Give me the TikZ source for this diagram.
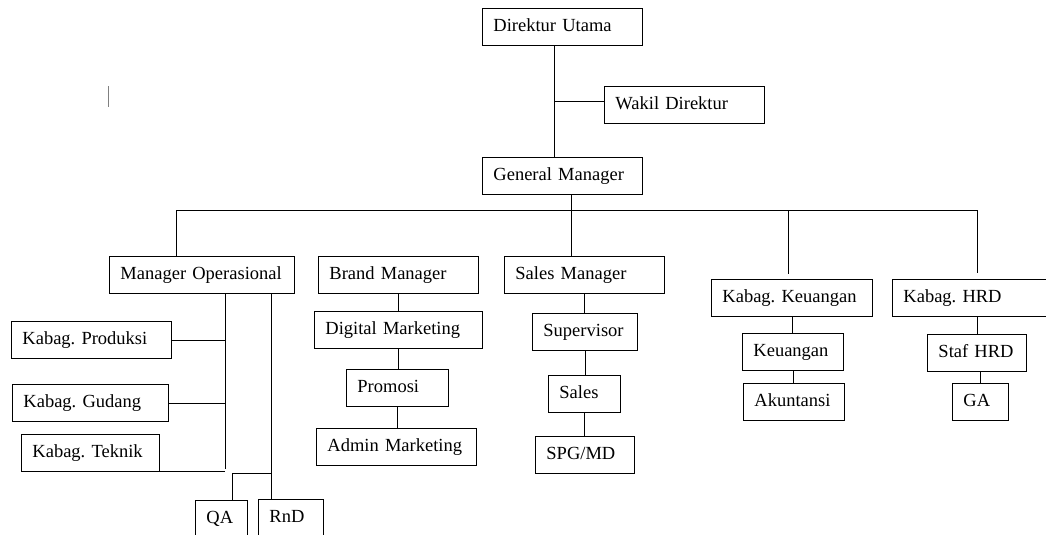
\documentclass[tikz,border=0pt]{standalone}
\usepackage{fontspec}
\setmainfont{Liberation Serif}
\frenchspacing
\begin{document}
\begin{tikzpicture}[x=1pt,y=-1pt,line width=0.9pt,
  box/.style={draw,anchor=north west,minimum height=37pt,inner xsep=11pt,inner ysep=0pt,
    text height=13pt,text depth=4pt,align=left,font=\fontsize{18.5}{22}\selectfont}]
\useasboundingbox (0,0) rectangle (1046,535);
\clip (0,0) rectangle (1046,535);
\node[box,text width=138pt] (du) at (482,8) {Direktur Utama};
\node[box,text width=138pt] (wd) at (604,86) {Wakil Direktur};
\node[box,text width=138pt] (gm) at (482,157) {General Manager};
\node[box,text width=163pt] (mo) at (109,256) {Manager Operasional};
\node[box,text width=138pt] (bm) at (318,256) {Brand Manager};
\node[box,text width=138pt] (sm) at (504,256) {Sales Manager};
\node[box,text width=139pt] (kk) at (711,279) {Kabag. Keuangan};
\node[box,text width=150pt] (hrd) at (892,279) {Kabag. HRD};
\node[box,text width=138pt] (kp) at (11,321) {Kabag. Produksi};
\node[box,text width=134pt] (kg) at (12,384) {Kabag. Gudang};
\node[box,text width=116pt] (kt) at (21,434) {Kabag. Teknik};
\node[box,text width=30pt] (qa) at (195,500) {QA};
\node[box,text width=43pt] (rnd) at (258,499) {RnD};
\node[box,text width=146pt] (dm) at (314,311) {Digital Marketing};
\node[box,text width=80pt] (pr) at (346,369) {Promosi};
\node[box,text width=138pt] (am) at (316,428) {Admin Marketing};
\node[box,text width=83pt] (sup) at (532,313) {Supervisor};
\node[box,text width=50pt] (sal) at (548,375) {Sales};
\node[box,text width=77pt] (spg) at (535,436) {SPG/MD};
\node[box,text width=79pt] (keu) at (742,333) {Keuangan};
\node[box,text width=79pt] (ak) at (743,383) {Akuntansi};
\node[box,text width=77pt] (staf) at (927,334) {Staf HRD};
\node[box,text width=34pt] (ga) at (952,383) {GA};
\coordinate (wj) at (554,101);
\coordinate (busL) at (176,210);
\coordinate (busR) at (977,210);
\coordinate (gmx) at (571,210);
\coordinate (kkx) at (788,210);
\coordinate (moa) at (225,469);
\coordinate (mob) at (271,473);
\coordinate (qax) at (232,473);
\draw (du.south -| wj) -- (gm.north -| wj);
\draw (wj) -- (wd.west |- wj);
\draw (busL) -- (busR);
\draw (gm.south -| gmx) -- (sm.north -| gmx);
\draw (busL) -- (mo.north -| busL);
\draw (kkx) -- +(0,64);
\draw (busR) -- +(0,63);
\draw (mo.south -| moa) -- (moa);
\draw (kp.east) -- (kp.east -| moa);
\draw (kg.east) -- (kg.east -| moa);
\draw (kt.south east) -- (kt.south east -| moa);
\draw (mo.south -| mob) -- (rnd.north -| mob);
\draw (mob) -- (qax) -- (qa.north -| qax);
\draw (bm.south) -- (bm.south |- dm.north);
\draw (dm.south) -- (dm.south |- pr.north);
\draw (pr.south) -- (pr.south |- am.north);
\draw (sm.south) -- (sm.south |- sup.north);
\draw (sup.south) -- (sup.south |- sal.north);
\draw (sal.south) -- (sal.south |- spg.north);
\draw (kk.south) -- (kk.south |- keu.north);
\draw (keu.south) -- (keu.south |- ak.north);
\draw (staf.north) -- (staf.north |- hrd.south);
\draw (ga.north) -- (ga.north |- staf.south);
\draw[gray] (108,86) -- (108,107);
\end{tikzpicture}
\end{document}
